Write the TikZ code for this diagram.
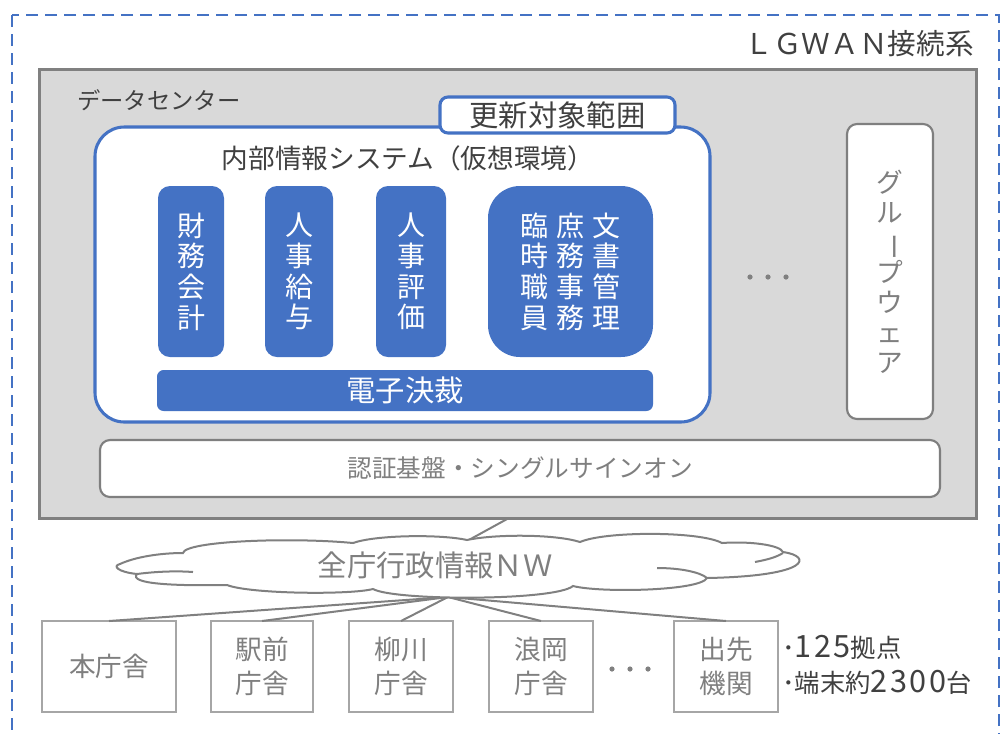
\documentclass[tikz,border=0pt]{standalone}
\usepackage{fontspec}
\usepackage{graphicx}
\setmainfont{Noto Sans CJK JP}
\newfontfamily\digs[LetterSpace=8]{Noto Sans CJK JP}
\usetikzlibrary{calc}
\definecolor{cblue}{HTML}{4472C4}
\definecolor{cdark}{HTML}{404040}
\definecolor{cgray}{HTML}{7F7F7F}
\definecolor{cline}{HTML}{808080}
\definecolor{csite}{HTML}{A6A6A6}
\definecolor{cfill}{HTML}{D9D9D9}
\newcommand{\bigdig}[1]{{\digs\fontsize{23}{26}\selectfont #1}}
\begin{document}
\begin{tikzpicture}[x=0.75pt,y=-0.75pt,
  wh/.style 2 args={minimum width={#1*0.75pt},minimum height={#2*0.75pt},inner sep=0pt,outer sep=0pt},
  fs/.style 2 args={font=\fontsize{#1}{#2}\selectfont},
  frameline/.style={draw=cblue,line width=1.9pt,dash pattern=on 9pt off 5.25pt},
  dcbox/.style={draw=cline,fill=cfill,line width=1.9pt},
  sysbox/.style={draw=cblue,fill=white,line width=2.3pt,rounded corners=22pt},
  tabbox/.style={draw=cblue,fill=white,line width=2.3pt,rounded corners=6pt,text=cdark},
  appbox/.style={fill=cblue,text=white,rounded corners=9pt,align=center},
  graybox/.style={draw=cgray,fill=white,line width=1.6pt,rounded corners=7.5pt,text=cgray,align=center},
  sitebox/.style={draw=csite,fill=white,line width=1.6pt,text=cgray,align=center},
  link/.style={draw=cline,line width=1.5pt},
  cloudline/.style={draw=cline,fill=white,line width=1.5pt},
  dotmark/.style={circle,fill=cline,inner sep=0pt,minimum size=3.9pt},
  lbl/.style={text=cdark,inner sep=0pt}]
\useasboundingbox (0,0) rectangle (1002,733);
% outer dashed frame
\draw[frameline] (12,15) rectangle (999,770);
\node[lbl,fs={21.5}{25},anchor=east] (lgwan) at (974,44) {ＬＧＷＡＮ接続系};
% data center
\node[dcbox,wh={937}{449}] (dc) at (508,294) {};
\node[lbl,fs={17.5}{20},anchor=west] (dctitle) at (77,100) {データセンター};
% internal systems
\node[sysbox,wh={615}{295}] (sys) at (402.5,274.5) {};
\node[tabbox,wh={235}{36},fs={22}{24}] (tab) at (557.5,115) {更新対象範囲};
\node[lbl,fs={20}{22}] (systitle) at (408,158) {内部情報システム（仮想環境）};
\node[appbox,wh={66}{171},fs={21}{23}] (fin) at (191,271.5) {財\\務\\会\\計};
\node[appbox,wh={68}{171},fs={21}{23}] (pay) at (299,271.5) {人\\事\\給\\与};
\node[appbox,wh={70}{171},fs={21}{23}] (eval) at (411,271.5) {人\\事\\評\\価};
\node[appbox,wh={165}{171},fs={21}{23},rounded corners=24pt] (docs) at (570.5,271.5)
  {臨\hspace{6pt}庶\hspace{6pt}文\\時\hspace{6pt}務\hspace{6pt}書\\職\hspace{6pt}事\hspace{6pt}管\\員\hspace{6pt}務\hspace{6pt}理};
\node[appbox,wh={496}{41},fs={22}{24},rounded corners=5pt] (esig) at (405,390.5) {電子決裁};
% dots
\node[dotmark] (d1) at (750,277) {};
\node[dotmark] (d2) at (768,277) {};
\node[dotmark] (d3) at (786,277) {};
% groupware
\node[graybox,wh={86}{295},fs={20}{22.5}] (gw) at (890,271.5) {グ\\ル\\\rotatebox[origin=c]{-90}{ー}\\プ\\ウ\\ェ\\ア};
% authentication
\node[graybox,wh={840}{57},fs={18.5}{20}] (auth) at (520,468.5) {認証基盤・シングルサインオン};
% cloud
\coordinate (nwtop) at (467,541);
\coordinate (hub) at (448,597);
\draw[link] (dc.south) -- (nwtop);
% sites
\node[sitebox,wh={134}{91},fs={20}{25.5}] (honcho) at (109,666.5) {本庁舎};
\node[sitebox,wh={102}{91},fs={20}{25.5}] (ekimae) at (262,666.5) {駅前\\庁舎};
\node[sitebox,wh={104}{91},fs={20}{25.5}] (yanagawa) at (401,666.5) {柳川\\庁舎};
\node[sitebox,wh={104}{91},fs={20}{25.5}] (namioka) at (541,666.5) {浪岡\\庁舎};
\node[sitebox,wh={104}{91},fs={20}{25.5}] (desaki) at (726,666.5) {出先\\機関};
\foreach \s in {honcho,ekimae,yanagawa,namioka,desaki}
  \draw[link] (hub) -- (\s.north);
\draw[cloudline] (120,564)
 .. controls (135,557) and (160,553) .. (183,553)
 .. controls (185,541) and (290,537) .. (353,543)
 .. controls (375,535) and (440,534) .. (467,540)
 .. controls (495,534) and (555,534) .. (580,542)
 .. controls (605,531) and (700,531) .. (722,543)
 .. controls (750,541) and (780,545) .. (783,552)
 .. controls (812,556) and (812,576) .. (707,578)
 .. controls (700,591) and (600,593) .. (573,586)
 .. controls (555,601) and (395,601) .. (373,589)
 .. controls (350,595) and (250,594) .. (227,585)
 .. controls (175,586) and (128,584) .. (137,574)
 .. controls (118,572) and (112,566) .. (120,564) -- cycle;
\draw[link] (137,574) .. controls (160,571) and (180,571) .. (193,572);
\draw[link] (657,568) .. controls (680,568) and (700,572) .. (707,578);
\draw[link] (755,562) .. controls (765,560) and (775,558) .. (783,553);
\node[text=cgray,inner sep=0pt,fs={22}{24}] (nw) at (435,565) {全庁行政情報ＮＷ};
% dots between sites
\node[dotmark] (e1) at (612,669) {};
\node[dotmark] (e2) at (630,669) {};
\node[dotmark] (e3) at (648,669) {};
\node[lbl,fs={19}{26},align=left,anchor=west] (info) at (782,665)
  {･\bigdig{125}拠点\\･端末約\bigdig{2300}台};
\end{tikzpicture}
\end{document}
